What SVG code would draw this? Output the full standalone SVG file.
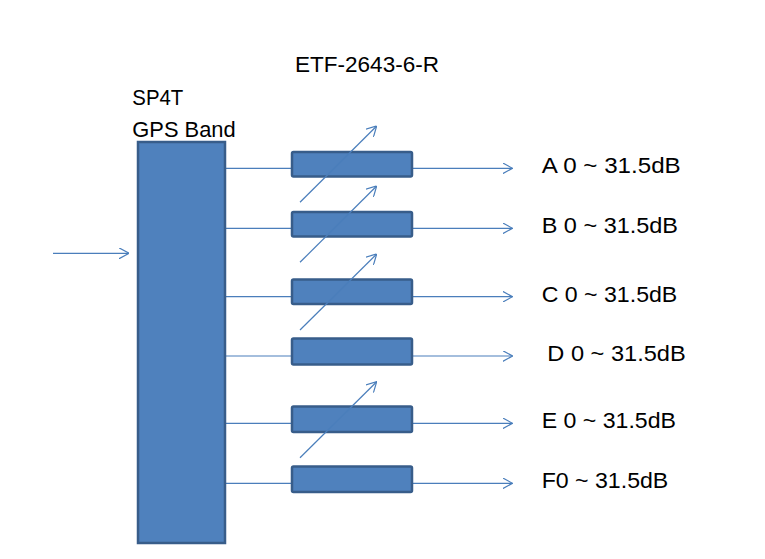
<svg xmlns="http://www.w3.org/2000/svg" width="765" height="559" viewBox="0 0 765 559">
<style>
.blk{fill:#4f81bd;stroke:#385d8a;stroke-width:2.5}
.ln{fill:none;stroke:#4a7ebb;stroke-width:1.2}
.t{font-family:"Liberation Sans",Arial,sans-serif;font-size:22.5px;fill:#000}
</style>
<defs>
<marker id="ah" viewBox="0 0 10 11" refX="10" refY="5.5" markerWidth="10" markerHeight="11" markerUnits="userSpaceOnUse" orient="auto">
<path d="M0,0 L10,5.5 L0,11" fill="none" stroke="#4a7ebb" stroke-width="1.2"/>
</marker>
</defs>
<rect width="765" height="559" fill="#fff"/>
<g id="connectors">
<line class="ln" x1="53" y1="253.3" x2="129" y2="253.3" marker-end="url(#ah)"/>
<line class="ln" x1="225" y1="168.3" x2="512.5" y2="168.3" marker-end="url(#ah)"/>
<line class="ln" x1="225" y1="228.3" x2="512.5" y2="228.3" marker-end="url(#ah)"/>
<line class="ln" x1="225" y1="296.7" x2="512.5" y2="296.7" marker-end="url(#ah)"/>
<line class="ln" x1="225" y1="356" x2="512.5" y2="356" marker-end="url(#ah)"/>
<line class="ln" x1="225" y1="423.3" x2="512.5" y2="423.3" marker-end="url(#ah)"/>
<line class="ln" x1="225" y1="483.3" x2="512.5" y2="483.3" marker-end="url(#ah)"/>
</g>
<g id="sp4t">
<rect class="blk" x="138" y="142" width="87" height="401"/>
<text class="t" x="132.3" y="105" textLength="51" lengthAdjust="spacingAndGlyphs">SP4T</text>
<text class="t" x="132.3" y="136.7" textLength="103.4" lengthAdjust="spacingAndGlyphs">GPS Band</text>
</g>
<g id="title">
<text class="t" x="295" y="72.3" textLength="144" lengthAdjust="spacingAndGlyphs">ETF-2643-6-R</text>
</g>
<g id="attA">
<rect class="blk" x="292" y="152" width="120" height="24.5" rx="1.5"/>
<line class="ln" x1="300" y1="202.3" x2="376.7" y2="126" marker-end="url(#ah)"/>
</g>
<g id="attB">
<rect class="blk" x="292" y="212" width="120" height="24.5" rx="1.5"/>
<line class="ln" x1="300" y1="262.3" x2="376.7" y2="186" marker-end="url(#ah)"/>
</g>
<g id="attC">
<rect class="blk" x="292" y="279.5" width="120" height="24.5" rx="1.5"/>
<line class="ln" x1="300" y1="330" x2="376.7" y2="254" marker-end="url(#ah)"/>
</g>
<g id="attD">
<rect class="blk" x="292" y="338.5" width="120" height="26" rx="1.5"/>
</g>
<g id="attE">
<rect class="blk" x="292" y="406.5" width="120" height="25.5" rx="1.5"/>
<line class="ln" x1="300" y1="457.7" x2="376.7" y2="381.7" marker-end="url(#ah)"/>
</g>
<g id="attF">
<rect class="blk" x="292" y="466.5" width="120" height="25.5" rx="1.5"/>
</g>
<g id="labels">
<text class="t" x="541.7" y="173.3" textLength="139" lengthAdjust="spacingAndGlyphs">A 0 ~ 31.5dB</text>
<text class="t" x="541.7" y="233.3" textLength="136.3" lengthAdjust="spacingAndGlyphs">B 0 ~ 31.5dB</text>
<text class="t" x="541.7" y="301.7" textLength="135.6" lengthAdjust="spacingAndGlyphs">C 0 ~ 31.5dB</text>
<text class="t" x="547.3" y="360.7" textLength="138.4" lengthAdjust="spacingAndGlyphs">D 0 ~ 31.5dB</text>
<text class="t" x="541.7" y="428.3" textLength="134.3" lengthAdjust="spacingAndGlyphs">E 0 ~ 31.5dB</text>
<text class="t" x="541.7" y="488.3" textLength="126.6" lengthAdjust="spacingAndGlyphs">F0 ~ 31.5dB</text>
</g>
</svg>
